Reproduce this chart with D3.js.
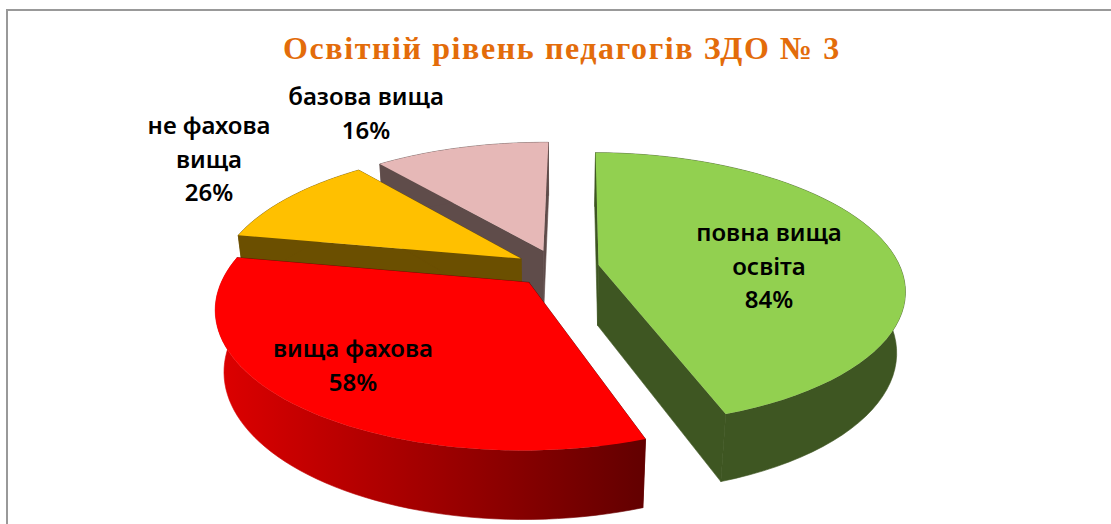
<!DOCTYPE html>
<html lang="uk">
<head>
    <meta charset="UTF-8">
    <title>Освітній рівень педагогів ЗДО № 3</title>
    <script src="https://d3js.org/d3.v7.min.js"></script>
    <style>
        body { margin: 0; background: #fff; }
        svg { display: block; }
    </style>
</head>
<body>
    <svg id="chart"></svg>

    <script>
        const chartTitle = "Освітній рівень педагогів ЗДО № 3";
        const categories = [["повна вища", "освіта"], ["вища фахова"], ["не фахова", "вища"], ["базова вища"]];
        // slice sizes read from the drawn angles, the printed percents don't match them
        const sliceValues = [8, 6, 2, 2];
        const percentLabels = ["84%", "58%", "26%", "16%"];

        const topColors = ["#92d050", "#ff0000", "#ffc000", "#e6b8b7"];
        const wallColors = ["#3e5622", "url(#redWall)", "#6b4f00", "#5f4c4a"];
        // centre x and first baseline of every label
        const labelPlace = [[769, 241], [353, 357], [209, 134], [366, 105]];

        const width = 1111, height = 524;
        const cx = 557, cy = 268, rx = 302, ry = 133, wallH = 62;
        const explode = 0.14, persp = 0.175, perspZ = 0.025;
        const firstAngle = 0.7 * Math.PI / 180;

        const svg = d3.select("#chart").attr("width", width).attr("height", height);

        // unit disc -> screen, with a bit of perspective
        function project(x, y, z) {
            const w = 1 + persp * y + perspZ * z;
            return [cx + rx * x / w, cy - ry * y / w + wallH * z / w];
        }

        const slices = d3.pie().sort(null)
            .startAngle(firstAngle)
            .endAngle(firstAngle + 2 * Math.PI)(sliceValues);
        const line = d3.line();

        function rimPoint(s, a, z) {
            const mid = (s.startAngle + s.endAngle) / 2;
            return project(explode * Math.sin(mid) + Math.sin(a), explode * Math.cos(mid) + Math.cos(a), z);
        }
        function apex(s, z) {
            const mid = (s.startAngle + s.endAngle) / 2;
            return project(explode * Math.sin(mid), explode * Math.cos(mid), z);
        }
        function rim(s, z) {
            const steps = d3.range(0, 61).map(i => s.startAngle + (s.endAngle - s.startAngle) * i / 60);
            return steps.map(a => rimPoint(s, a, z));
        }

        const defs = svg.append("defs");
        const redRim = rim(slices[1], 0);
        const redGrad = defs.append("linearGradient")
            .attr("id", "redWall")
            .attr("gradientUnits", "userSpaceOnUse")
            .attr("x1", d3.min(redRim, d => d[0])).attr("y1", 0)
            .attr("x2", d3.max(redRim, d => d[0])).attr("y2", 0);
        redGrad.append("stop").attr("offset", "0%").attr("stop-color", "#de0000");
        redGrad.append("stop").attr("offset", "100%").attr("stop-color", "#620000");

        // frame, only top and left are visible in the crop
        svg.append("path")
            .attr("d", `M7,${height}V10H${width}`)
            .attr("fill", "none")
            .attr("stroke", "#999")
            .attr("stroke-width", 2);

        svg.append("text")
            .attr("x", 562)
            .attr("y", 59)
            .attr("text-anchor", "middle")
            .attr("font-family", "'Liberation Serif', serif")
            .attr("font-weight", "bold")
            .attr("font-size", 32)
            .attr("letter-spacing", 1.6)
            .attr("fill", "#e36c0a")
            .text(chartTitle);

        // back to front so red and yellow cover the slices behind them
        const order = [3, 2, 0, 1];
        order.forEach(i => {
            const s = slices[i];
            const g = svg.append("g");
            const flat = i === 1 ? "#620000" : wallColors[i];
            [s.startAngle, s.endAngle].forEach(a => {
                g.append("path")
                    .attr("d", line([apex(s, 0), rimPoint(s, a, 0), rimPoint(s, a, 1), apex(s, 1)]) + "Z")
                    .attr("fill", flat)
                    .attr("stroke", flat)
                    .attr("stroke-width", 0.6);
            });
            g.append("path")
                .attr("d", line(rim(s, 0).concat(rim(s, 1).reverse())) + "Z")
                .attr("fill", wallColors[i])
                .attr("stroke", wallColors[i])
                .attr("stroke-width", 0.6);
            g.append("path")
                .attr("d", line([apex(s, 0)].concat(rim(s, 0))) + "Z")
                .attr("fill", topColors[i]);
        });

        const labels = svg.append("g")
            .attr("font-family", "'Noto Sans', sans-serif")
            .attr("font-size", 24)
            .attr("font-weight", 600)
            .attr("fill", "#000")
            .attr("text-anchor", "middle");

        categories.forEach((lines, i) => {
            lines.concat(percentLabels[i]).forEach((t, j) => {
                labels.append("text")
                    .attr("x", labelPlace[i][0])
                    .attr("y", labelPlace[i][1] + j * 33.5)
                    .text(t);
            });
        });
    </script>
</body>
</html>
